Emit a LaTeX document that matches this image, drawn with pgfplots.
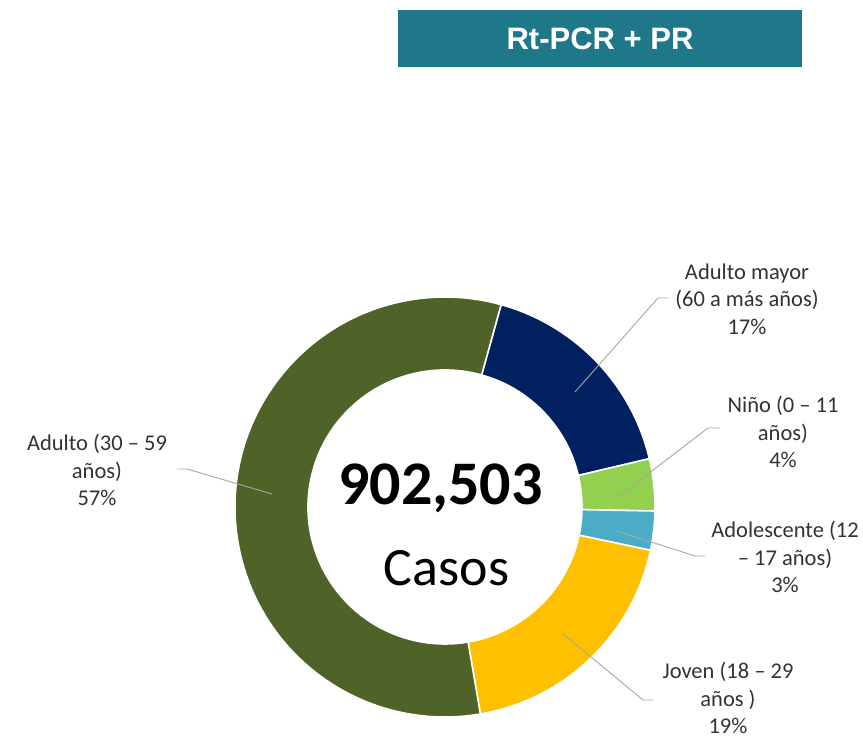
\documentclass[border=0pt]{standalone}
\usepackage{pgfplots}
\pgfplotsset{compat=1.18}
\usepackage{fontspec}
\setmainfont{Carlito}
\newfontfamily\arialfont{Liberation Sans}

\definecolor{cAdulto}{HTML}{4F6228}
\definecolor{cMayor}{HTML}{002060}
\definecolor{cNino}{HTML}{92D050}
\definecolor{cAdol}{HTML}{4BACC6}
\definecolor{cJoven}{HTML}{FFC000}
\definecolor{cTitle}{HTML}{1F7889}
\definecolor{cText}{HTML}{333333}
\definecolor{cLead}{HTML}{A6A6A6}

% donut sector: #1 start angle, #2 share in %, #3 colour
\newcommand{\sector}[3]{%
  \fill[#3, draw=white, line width=1.6pt]
    (axis cs:445,232) ++(#1:210pt)
    arc[start angle=#1, delta angle={-3.6*#2}, radius=210pt]
    -- ++({#1-3.6*#2}:-73pt)
    arc[start angle={#1-3.6*#2}, delta angle={3.6*#2}, radius=137pt]
    -- cycle;}

\begin{document}
\begin{tikzpicture}
\useasboundingbox (0,0) rectangle (863pt,739pt);
\begin{axis}[
    at={(0,0)}, anchor=origin,
    x=1pt, y=1pt,
    xmin=0, xmax=863, ymin=0, ymax=739,
    hide axis, clip=false,
]
  % shares in %, clockwise from the top
  \sector{74.5}{17}{cMayor}
  \sector{74.5-3.6*17}{4}{cNino}
  \sector{74.5-3.6*21}{3}{cAdol}
  \sector{74.5-3.6*24}{19}{cJoven}
  \sector{74.5-3.6*43}{57}{cAdulto}

  % leader lines
  \draw[cLead, line width=0.9pt] (axis cs:575,347) -- (axis cs:658,441) -- (axis cs:668,441);
  \draw[cLead, line width=0.9pt] (axis cs:618,242) -- (axis cs:708,311) -- (axis cs:720,311);
  \draw[cLead, line width=0.9pt] (axis cs:617,208) -- (axis cs:695,183) -- (axis cs:705,183);
  \draw[cLead, line width=0.9pt] (axis cs:562,106) -- (axis cs:643,39) -- (axis cs:653,39);
  \draw[cLead, line width=0.9pt] (axis cs:177,270) -- (axis cs:187,270) -- (axis cs:272,245);

  % labels
  \begin{scope}[every node/.style={align=center, inner sep=0pt, text=cText,
      font=\fontsize{22.5}{27.5}\selectfont}]
    \node at (axis cs:747,440) {Adulto mayor\\(60 a más años)\\17\%};
    \node at (axis cs:783,307) {Niño (0 – 11\\años)\\4\%};
    \node at (axis cs:785,182) {Adolescente (12\\– 17 años)\\3\%};
    \node at (axis cs:728,41) {Joven (18 – 29\\años )\\19\%};
    \node at (axis cs:97,269) {Adulto (30 – 59\\años)\\57\%};
  \end{scope}

  % centre text
  \node[anchor=base, inner sep=0pt, font=\fontsize{62}{62}\selectfont\bfseries]
    at (axis cs:440.5,234) {902,503};
  \node[anchor=base, inner sep=0pt, font=\fontsize{54}{54}\selectfont]
    at (axis cs:446.5,153) {Casos};

  % title box
  \fill[cTitle] (axis cs:398,672) rectangle (axis cs:802,729);
  \node[text=white, font=\arialfont\bfseries\fontsize{31}{31}\selectfont]
    at (axis cs:600,700.5) {Rt-PCR + PR};
\end{axis}
\end{tikzpicture}
\end{document}
